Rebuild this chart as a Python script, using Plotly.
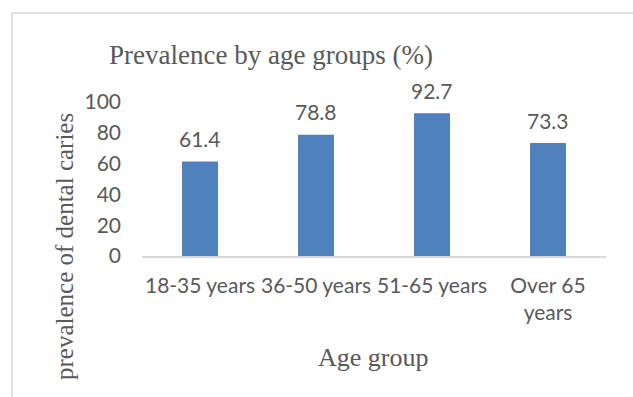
import plotly.graph_objects as go

# Prevalence of dental caries by age group
categories = ["18-35 years", "36-50 years", "51-65 years", "Over 65<br>years"]
prevalence = [61.4, 78.8, 92.7, 73.3]
y_ticks = [0, 20, 40, 60, 80, 100]

BAR_BLUE = "#4f81bd"
TEXT_GRAY = "#595959"
LINE_GRAY = "#d9d9d9"
SANS = "Lato, Carlito, Calibri, sans-serif"
SERIF = "Liberation Serif, Times New Roman, serif"

W, H = 633, 397
L, R, T, B = 142, 27, 102, 141
pw, ph = W - L - R, H - T - B


def px_x(px):
    return (px - L) / pw


def px_y(py):
    return (H - B - py) / ph


fig = go.Figure(
    go.Bar(
        x=categories,
        y=prevalence,
        marker=dict(color=BAR_BLUE, line=dict(width=0)),
        hoverinfo="x+y",
    )
)

# value labels above each bar
for cat, val in zip(categories, prevalence):
    fig.add_annotation(
        x=cat, y=val, xref="x", yref="y",
        text=f"{val:.1f}", showarrow=False,
        yanchor="middle", yshift=23,
        font=dict(family=SANS, size=21, color=TEXT_GRAY),
    )

# chart title and axis titles
fig.add_annotation(
    x=px_x(271), y=px_y(55), xref="paper", yref="paper",
    text="Prevalence by age groups (%)", showarrow=False,
    xanchor="center", yanchor="middle",
    font=dict(family=SERIF, size=27, color=TEXT_GRAY),
)
fig.add_annotation(
    x=px_x(64), y=px_y(247), xref="paper", yref="paper",
    text="prevalence of dental caries", showarrow=False, textangle=-90,
    xanchor="center", yanchor="middle",
    font=dict(family=SERIF, size=25, color=TEXT_GRAY),
)
fig.add_annotation(
    x=px_x(373), y=px_y(357), xref="paper", yref="paper",
    text="Age group", showarrow=False,
    xanchor="center", yanchor="middle",
    font=dict(family=SERIF, size=26, color=TEXT_GRAY),
)

# chart-area frame
fig.add_shape(
    type="rect", xref="paper", yref="paper",
    x0=px_x(12), x1=px_x(W + 20), y0=px_y(H + 20), y1=px_y(13),
    line=dict(color=LINE_GRAY, width=1.5), fillcolor="rgba(0,0,0,0)",
    layer="below",
)

fig.update_layout(
    width=W, height=H,
    margin=dict(l=L, r=R, t=T, b=B),
    paper_bgcolor="white", plot_bgcolor="white",
    showlegend=False,
    bargap=0.69,
    font=dict(family=SANS, size=21, color=TEXT_GRAY),
)
fig.update_xaxes(
    showgrid=False, showline=True, linecolor=LINE_GRAY, linewidth=1.5,
    ticks="", tickfont=dict(family=SANS, size=21, color=TEXT_GRAY),
    ticklabelstandoff=10,
)
fig.update_yaxes(
    range=[0, 100], tickvals=y_ticks, showgrid=False, zeroline=False,
    showline=False, ticks="", ticklabelstandoff=20,
    tickfont=dict(family=SANS, size=21, color=TEXT_GRAY),
)

fig.write_html("out.html")
